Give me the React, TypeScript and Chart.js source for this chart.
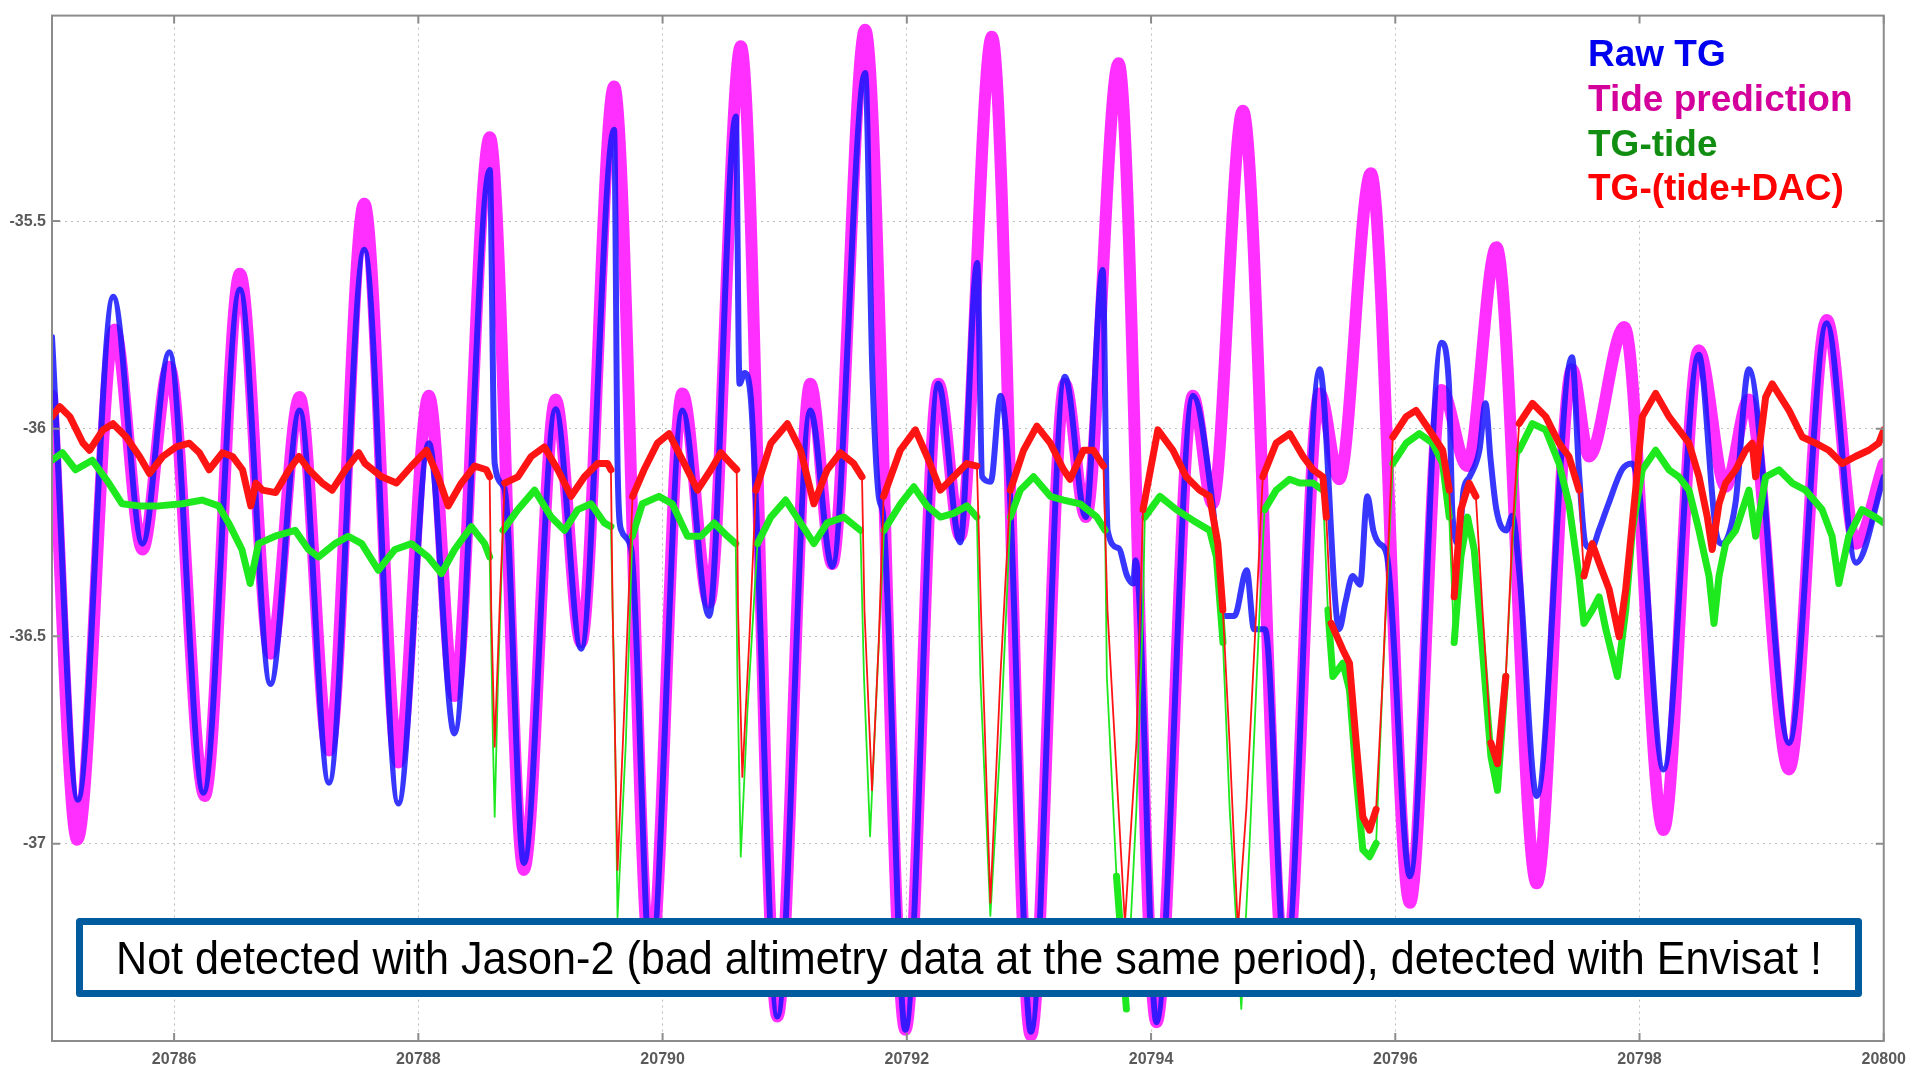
import React, { useEffect, useRef } from 'react';
import { Chart, registerables } from 'chart.js';

Chart.register(...registerables);

const W = 1915;
const H = 1071;

const xTicks = [20786, 20788, 20790, 20792, 20794, 20796, 20798, 20800];
const yTicks = [-37, -36.5, -36, -35.5];
const seriesNames = ['Raw TG', 'Tide prediction', 'TG-tide', 'TG-(tide+DAC)'];
const noteText = 'Not detected with Jason-2 (bad altimetry data at the same period), detected with Envisat !';

// Tide prediction (day, metres)
const tidePrediction: [number, number][] = [
  [20785.0, -35.921], [20785.207, -36.99], [20785.511, -35.761], [20785.741, -36.291],
  [20785.96, -35.851], [20786.25, -36.885], [20786.539, -35.627], [20786.789, -36.542],
  [20787.028, -35.924], [20787.268, -36.775], [20787.557, -35.458], [20787.836, -36.804],
  [20788.086, -35.921], [20788.295, -36.644], [20788.585, -35.298], [20788.864, -37.063],
  [20789.124, -35.93], [20789.333, -36.515], [20789.603, -35.176], [20789.902, -37.293],
  [20790.162, -35.915], [20790.381, -36.419], [20790.641, -35.079], [20790.94, -37.416],
  [20791.21, -35.892], [20791.389, -36.326], [20791.659, -35.039], [20791.988, -37.448],
  [20792.258, -35.892], [20792.437, -36.259], [20792.697, -35.056], [20793.016, -37.462],
  [20793.295, -35.892], [20793.465, -36.213], [20793.734, -35.12], [20794.044, -37.43],
  [20794.343, -35.921], [20794.503, -36.181], [20794.752, -35.234], [20795.102, -37.322],
  [20795.381, -35.915], [20795.541, -36.122], [20795.8, -35.385], [20796.12, -37.142],
  [20796.379, -35.907], [20796.589, -36.09], [20796.828, -35.563], [20797.158, -37.095],
  [20797.447, -35.857], [20797.587, -36.067], [20797.876, -35.755], [20798.196, -36.967],
  [20798.485, -35.811], [20798.705, -36.14], [20798.894, -35.93], [20799.224, -36.821],
  [20799.533, -35.738], [20799.773, -36.277], [20800.0, -36.084],
];

// Raw tide gauge
const rawTG: [number, number][] = [
  [20785.0, -35.779], [20785.212, -36.894], [20785.501, -35.682], [20785.741, -36.277],
  [20785.96, -35.816], [20786.24, -36.877], [20786.539, -35.665], [20786.789, -36.615],
  [20787.028, -35.956], [20787.268, -36.853], [20787.557, -35.569], [20787.836, -36.903],
  [20788.086, -36.035], [20788.295, -36.734], [20788.585, -35.377], [20788.625, -36.084],
  [20788.704, -36.143], [20788.864, -37.046], [20789.124, -35.953], [20789.333, -36.53],
  [20789.603, -35.28], [20789.632, -36.099], [20789.662, -36.245], [20789.742, -36.288],
  [20789.902, -37.293], [20790.162, -35.956], [20790.381, -36.451], [20790.6, -35.248],
  [20790.63, -35.892], [20790.67, -35.866], [20790.72, -35.918], [20790.94, -37.416],
  [20791.21, -35.956], [20791.389, -36.332], [20791.659, -35.143], [20791.718, -35.866],
  [20791.768, -36.157], [20791.808, -36.215], [20791.988, -37.448], [20792.258, -35.892],
  [20792.437, -36.274], [20792.577, -35.601], [20792.617, -36.116], [20792.687, -36.128],
  [20792.767, -35.921], [20792.837, -36.116], [20793.016, -37.453], [20793.295, -35.875],
  [20793.465, -36.213], [20793.604, -35.618], [20793.644, -36.245], [20793.734, -36.288],
  [20793.804, -36.355], [20793.853, -36.373], [20793.873, -36.317], [20794.044, -37.43],
  [20794.343, -35.921], [20794.503, -36.181], [20794.533, -36.274], [20794.583, -36.451],
  [20794.683, -36.451], [20794.783, -36.341], [20794.843, -36.483], [20794.933, -36.483],
  [20795.102, -37.293], [20795.381, -35.857], [20795.541, -36.483], [20795.591, -36.419],
  [20795.651, -36.355], [20795.711, -36.376], [20795.771, -36.163], [20795.82, -36.245],
  [20795.87, -36.277], [20795.93, -36.303], [20796.12, -37.078], [20796.379, -35.793],
  [20796.439, -35.892], [20796.469, -36.213], [20796.519, -36.277], [20796.559, -36.148],
  [20796.609, -36.116], [20796.689, -36.052], [20796.739, -35.939], [20796.779, -36.07],
  [20796.828, -36.195], [20796.908, -36.245], [20796.958, -36.21], [20797.018, -36.355],
  [20797.158, -36.885], [20797.447, -35.828], [20797.507, -36.116], [20797.557, -36.277],
  [20797.607, -36.288], [20797.667, -36.245], [20797.746, -36.181], [20797.856, -36.099],
  [20797.936, -36.084], [20797.996, -36.148], [20798.196, -36.821], [20798.485, -35.822],
  [20798.625, -36.245], [20798.675, -36.277], [20798.785, -36.181], [20798.894, -35.857],
  [20799.224, -36.757], [20799.533, -35.746], [20799.773, -36.323], [20800.0, -36.116],
];

// TG - tide
const tgMinusTide: [number, number][] = [
  [20785.0, -36.076], [20785.085, -36.058], [20785.193, -36.099], [20785.33, -36.076],
  [20785.465, -36.131], [20785.574, -36.181], [20785.711, -36.186], [20785.874, -36.186],
  [20786.065, -36.181], [20786.228, -36.172], [20786.364, -36.186], [20786.446, -36.227],
  [20786.555, -36.291], [20786.623, -36.373], [20786.691, -36.277], [20786.827, -36.259],
  [20786.991, -36.245], [20787.1, -36.291], [20787.182, -36.309], [20787.317, -36.277],
  [20787.426, -36.259], [20787.536, -36.277], [20787.672, -36.341], [20787.808, -36.291],
  [20787.944, -36.277], [20788.08, -36.309], [20788.189, -36.349], [20788.297, -36.291],
  [20788.434, -36.236], [20788.543, -36.277], [20788.584, -36.309], [20788.592, -36.437],
  [20788.611, -36.757], [20788.625, -36.935], [20788.653, -36.597], [20788.693, -36.245],
  [20788.815, -36.195], [20788.952, -36.148], [20789.088, -36.213], [20789.197, -36.245],
  [20789.305, -36.195], [20789.414, -36.181], [20789.523, -36.227], [20789.577, -36.236],
  [20789.591, -36.437], [20789.604, -36.597], [20789.631, -37.177], [20789.699, -36.757],
  [20789.752, -36.259], [20789.834, -36.181], [20789.97, -36.163], [20790.079, -36.181],
  [20790.204, -36.259], [20790.313, -36.259], [20790.422, -36.227], [20790.531, -36.259],
  [20790.599, -36.277], [20790.613, -36.597], [20790.64, -37.031], [20790.695, -36.679],
  [20790.777, -36.277], [20790.886, -36.213], [20791.008, -36.172], [20791.13, -36.227],
  [20791.239, -36.277], [20791.348, -36.227], [20791.484, -36.213], [20791.62, -36.245],
  [20791.649, -36.597], [20791.699, -36.982], [20791.758, -36.597], [20791.813, -36.245],
  [20791.948, -36.181], [20792.057, -36.14], [20792.166, -36.186], [20792.275, -36.213],
  [20792.383, -36.204], [20792.492, -36.186], [20792.574, -36.213], [20792.602, -36.597],
  [20792.684, -37.174], [20792.766, -36.757], [20792.848, -36.213], [20792.929, -36.148],
  [20793.038, -36.116], [20793.175, -36.163], [20793.284, -36.172], [20793.419, -36.181],
  [20793.556, -36.213], [20793.624, -36.245], [20793.638, -36.597], [20793.717, -37.078],
  [20793.798, -37.398], [20793.88, -36.917], [20793.934, -36.437], [20793.949, -36.213],
  [20794.072, -36.163], [20794.207, -36.195], [20794.344, -36.221], [20794.48, -36.245],
  [20794.535, -36.309], [20794.589, -36.515], [20794.644, -36.917], [20794.698, -37.191],
  [20794.739, -37.398], [20794.807, -36.999], [20794.889, -36.437], [20794.93, -36.195],
  [20795.025, -36.148], [20795.134, -36.122], [20795.217, -36.131], [20795.326, -36.131],
  [20795.407, -36.148], [20795.448, -36.437], [20795.489, -36.597], [20795.571, -36.565],
  [20795.625, -36.629], [20795.68, -36.839], [20795.734, -37.014], [20795.789, -37.031],
  [20795.843, -36.999], [20795.898, -36.597], [20795.98, -36.084], [20796.089, -36.035],
  [20796.197, -36.012], [20796.306, -36.035], [20796.388, -36.084], [20796.442, -36.213],
  [20796.482, -36.515], [20796.537, -36.309], [20796.592, -36.213], [20796.646, -36.291],
  [20796.714, -36.533], [20796.783, -36.789], [20796.837, -36.871], [20796.905, -36.597],
  [20796.96, -36.277], [20797.014, -36.052], [20797.123, -35.988], [20797.232, -36.003],
  [20797.341, -36.084], [20797.422, -36.181], [20797.504, -36.355], [20797.545, -36.469],
  [20797.613, -36.437], [20797.669, -36.405], [20797.724, -36.483], [20797.819, -36.597],
  [20797.887, -36.437], [20797.941, -36.245], [20798.023, -36.099], [20798.132, -36.052],
  [20798.241, -36.099], [20798.323, -36.116], [20798.405, -36.148], [20798.487, -36.245],
  [20798.569, -36.355], [20798.61, -36.469], [20798.651, -36.355], [20798.705, -36.277],
  [20798.787, -36.245], [20798.896, -36.148], [20798.951, -36.259], [20799.033, -36.116],
  [20799.142, -36.099], [20799.25, -36.131], [20799.359, -36.148], [20799.495, -36.195],
  [20799.577, -36.259], [20799.632, -36.373], [20799.713, -36.259], [20799.822, -36.195],
  [20799.931, -36.213], [20800.0, -36.227],
];

// TG - (tide + DAC)
const tgMinusTideDac: [number, number][] = [
  [20785.0, -35.971], [20785.064, -35.947], [20785.146, -35.971], [20785.254, -36.035],
  [20785.308, -36.052], [20785.417, -36.003], [20785.499, -35.988], [20785.608, -36.02],
  [20785.717, -36.067], [20785.798, -36.108], [20785.907, -36.067], [20786.016, -36.044],
  [20786.125, -36.035], [20786.207, -36.058], [20786.287, -36.099], [20786.396, -36.058],
  [20786.478, -36.067], [20786.56, -36.099], [20786.628, -36.186], [20786.669, -36.131],
  [20786.724, -36.148], [20786.832, -36.154], [20786.941, -36.099], [20787.022, -36.067],
  [20787.104, -36.099], [20787.213, -36.131], [20787.294, -36.148], [20787.403, -36.099],
  [20787.512, -36.058], [20787.563, -36.084], [20787.699, -36.116], [20787.821, -36.131],
  [20787.944, -36.09], [20788.067, -36.052], [20788.162, -36.116], [20788.244, -36.186],
  [20788.352, -36.131], [20788.461, -36.09], [20788.557, -36.099], [20788.584, -36.116],
  [20788.597, -36.437], [20788.625, -36.766], [20788.665, -36.437], [20788.707, -36.131],
  [20788.815, -36.116], [20788.924, -36.067], [20789.033, -36.044], [20789.142, -36.099],
  [20789.251, -36.163], [20789.36, -36.116], [20789.468, -36.084], [20789.55, -36.084],
  [20789.577, -36.099], [20789.591, -36.437], [20789.631, -37.063], [20789.686, -36.679],
  [20789.754, -36.163], [20789.848, -36.099], [20789.957, -36.035], [20790.053, -36.012],
  [20790.178, -36.084], [20790.286, -36.148], [20790.395, -36.099], [20790.477, -36.058],
  [20790.559, -36.084], [20790.607, -36.099], [20790.618, -36.437], [20790.653, -36.839],
  [20790.709, -36.515], [20790.764, -36.148], [20790.886, -36.035], [20791.022, -35.988],
  [20791.13, -36.052], [20791.239, -36.181], [20791.348, -36.099], [20791.456, -36.058],
  [20791.565, -36.084], [20791.633, -36.116], [20791.653, -36.437], [20791.715, -36.871],
  [20791.77, -36.515], [20791.81, -36.163], [20791.946, -36.052], [20792.07, -36.003],
  [20792.166, -36.067], [20792.275, -36.148], [20792.383, -36.116], [20792.492, -36.084],
  [20792.574, -36.09], [20792.607, -36.437], [20792.684, -37.142], [20792.766, -36.597],
  [20792.848, -36.148], [20792.956, -36.052], [20793.065, -35.994], [20793.175, -36.035],
  [20793.284, -36.099], [20793.337, -36.122], [20793.446, -36.052], [20793.528, -36.052],
  [20793.61, -36.09], [20793.643, -36.437], [20793.786, -37.191], [20793.88, -36.757],
  [20793.934, -36.195], [20794.056, -36.003], [20794.179, -36.052], [20794.288, -36.116],
  [20794.397, -36.148], [20794.479, -36.163], [20794.547, -36.277], [20794.588, -36.437],
  [20794.643, -36.757], [20794.711, -37.206], [20794.78, -36.917], [20794.862, -36.437],
  [20794.915, -36.116], [20795.024, -36.035], [20795.136, -36.012], [20795.245, -36.067],
  [20795.326, -36.099], [20795.407, -36.116], [20795.435, -36.213], [20795.475, -36.469],
  [20795.571, -36.533], [20795.625, -36.565], [20795.68, -36.757], [20795.734, -36.935],
  [20795.789, -36.967], [20795.843, -36.917], [20795.898, -36.597], [20795.98, -36.02],
  [20796.089, -35.971], [20796.17, -35.956], [20796.279, -36.003], [20796.388, -36.052],
  [20796.442, -36.148], [20796.482, -36.405], [20796.537, -36.195], [20796.605, -36.131],
  [20796.66, -36.163], [20796.714, -36.437], [20796.783, -36.757], [20796.837, -36.807],
  [20796.905, -36.597], [20796.96, -36.245], [20797.014, -35.988], [20797.123, -35.939],
  [20797.232, -35.971], [20797.341, -36.035], [20797.422, -36.067], [20797.504, -36.148],
  [20797.545, -36.355], [20797.613, -36.277], [20797.669, -36.323], [20797.751, -36.387],
  [20797.833, -36.501], [20797.887, -36.387], [20797.968, -36.148], [20798.023, -35.971],
  [20798.132, -35.915], [20798.241, -35.971], [20798.323, -36.003], [20798.405, -36.035],
  [20798.487, -36.116], [20798.555, -36.213], [20798.595, -36.291], [20798.651, -36.181],
  [20798.705, -36.131], [20798.787, -36.099], [20798.869, -36.052], [20798.923, -36.035],
  [20798.951, -36.116], [20799.033, -35.924], [20799.087, -35.892], [20799.224, -35.956],
  [20799.333, -36.02], [20799.441, -36.035], [20799.55, -36.052], [20799.659, -36.084],
  [20799.768, -36.067], [20799.877, -36.052], [20799.959, -36.035], [20800.0, -36.003],
];

const toPoints = (arr: [number, number][]) => arr.map(([x, y]) => ({ x, y }));

const steepThin = (c: any) => {
  const dx = Math.abs(c.p1.x - c.p0.x);
  const dy = Math.abs(c.p1.y - c.p0.y);
  return dy > 14 * Math.max(dx, 0.2) ? 1.8 : 7;
};

const framePlugin = {
  id: 'frameAndNotes',
  afterDraw(chart: any) {
    const { ctx, chartArea } = chart;
    const { left, top, right, bottom } = chartArea;
    const xs = chart.scales.x;
    const ys = chart.scales.y;
    ctx.save();

    // legend block
    ctx.fillStyle = '#ffffff';
    ctx.fillRect(1567, 15, 314, 201);
    const legendColors = ['#0000f0', '#d4009c', '#118e11', '#ff0000'];
    const baselines = [66, 111, 156, 200];
    ctx.font = 'bold 37px "Liberation Sans", Arial, sans-serif';
    ctx.textAlign = 'left';
    ctx.textBaseline = 'alphabetic';
    seriesNames.forEach((n, i) => {
      ctx.fillStyle = legendColors[i];
      ctx.fillText(n, 1588, baselines[i]);
    });

    // frame
    ctx.strokeStyle = '#8c8c8c';
    ctx.lineWidth = 2;
    ctx.strokeRect(left, top, right - left, bottom - top);
    // inward tick marks
    ctx.beginPath();
    xTicks.forEach((v) => {
      const px = xs.getPixelForValue(v);
      ctx.moveTo(px, bottom);
      ctx.lineTo(px, bottom - 8);
      ctx.moveTo(px, top);
      ctx.lineTo(px, top + 8);
    });
    yTicks.forEach((v) => {
      const py = ys.getPixelForValue(v);
      ctx.moveTo(left, py);
      ctx.lineTo(left + 8, py);
      ctx.moveTo(right, py);
      ctx.lineTo(right - 8, py);
    });
    ctx.stroke();

    // annotation box
    const bx = 79.5, by = 921.5, bw = 1779, bh = 72;
    ctx.fillStyle = '#ffffff';
    ctx.fillRect(bx, by, bw, bh);
    ctx.strokeStyle = '#005c9e';
    ctx.lineWidth = 7;
    ctx.lineJoin = 'round';
    ctx.strokeRect(bx, by, bw, bh);
    ctx.fillStyle = '#000000';
    ctx.font = '46px "Liberation Sans Narrow", "Liberation Sans", Arial, sans-serif';
    const tw = ctx.measureText(noteText).width;
    const target = 1706;
    ctx.translate(969, 974);
    ctx.scale(target / tw, 1);
    ctx.textAlign = 'center';
    ctx.fillText(noteText, 0, 0);
    ctx.restore();
  },
};

export default function App() {
  const ref = useRef<HTMLCanvasElement>(null);

  useEffect(() => {
    const canvas = ref.current;
    if (!canvas) return;
    const chart = new Chart(canvas, {
      type: 'line',
      data: {
        datasets: [
          {
            label: seriesNames[3],
            data: toPoints(tgMinusTideDac),
            borderColor: '#ff1414',
            borderWidth: 7,
            tension: 0,
            pointRadius: 0,
            borderJoinStyle: 'round',
            borderCapStyle: 'round',
            segment: { borderWidth: steepThin },
          },
          {
            label: seriesNames[2],
            data: toPoints(tgMinusTide),
            borderColor: '#1ee81e',
            borderWidth: 7,
            tension: 0,
            pointRadius: 0,
            borderJoinStyle: 'round',
            borderCapStyle: 'round',
            segment: { borderWidth: steepThin },
          },
          {
            label: seriesNames[0],
            data: toPoints(rawTG),
            borderColor: 'rgba(20,20,255,0.85)',
            borderWidth: 6,
            cubicInterpolationMode: 'monotone',
            pointRadius: 0,
            borderJoinStyle: 'round',
            borderCapStyle: 'round',
          },
          {
            label: seriesNames[1],
            data: toPoints(tidePrediction),
            borderColor: '#ff30ff',
            borderWidth: 12,
            cubicInterpolationMode: 'monotone',
            pointRadius: 0,
            borderJoinStyle: 'round',
            borderCapStyle: 'round',
          },
        ],
      },
      options: {
        animation: false,
        responsive: false,
        maintainAspectRatio: false,
        layout: { padding: { top: 7, right: 24, left: 0, bottom: 0 } },
        plugins: { legend: { display: false }, tooltip: { enabled: false } },
        elements: { point: { radius: 0 } },
        scales: {
          x: {
            type: 'linear',
            min: 20785,
            max: 20800,
            afterBuildTicks: (s: any) => {
              s.ticks = xTicks.map((v) => ({ value: v }));
            },
            afterFit: (s: any) => {
              s.height = 30;
            },
            grid: { color: '#bdbdbd', lineWidth: 1, drawTicks: false },
            border: { color: '#8c8c8c', width: 2, dash: [2, 4] },
            ticks: {
              autoSkip: false,
              maxRotation: 0,
              padding: 9,
              color: '#5a5a5a',
              font: { family: '"Liberation Sans", Arial, sans-serif', size: 16, weight: 'bold' },
              callback: (v: any) => String(v),
            },
          },
          y: {
            type: 'linear',
            min: -37.475,
            max: -35.005,
            afterBuildTicks: (s: any) => {
              s.ticks = yTicks.map((v) => ({ value: v }));
            },
            afterFit: (s: any) => {
              s.width = 52;
            },
            grid: { color: '#bdbdbd', lineWidth: 1, drawTicks: false },
            border: { color: '#8c8c8c', width: 2, dash: [2, 4] },
            ticks: {
              padding: 6,
              color: '#5a5a5a',
              font: { family: '"Liberation Sans", Arial, sans-serif', size: 16, weight: 'bold' },
              callback: (v: any) => String(v),
            },
          },
        },
      },
      plugins: [framePlugin],
    } as any);
    return () => chart.destroy();
  }, []);

  return (
    <div style={{ position: 'absolute', left: 0, top: 0, width: W, height: H, background: '#ffffff' }}>
      <canvas ref={ref} width={W} height={H} style={{ display: 'block', width: W, height: H }} />
    </div>
  );
}
